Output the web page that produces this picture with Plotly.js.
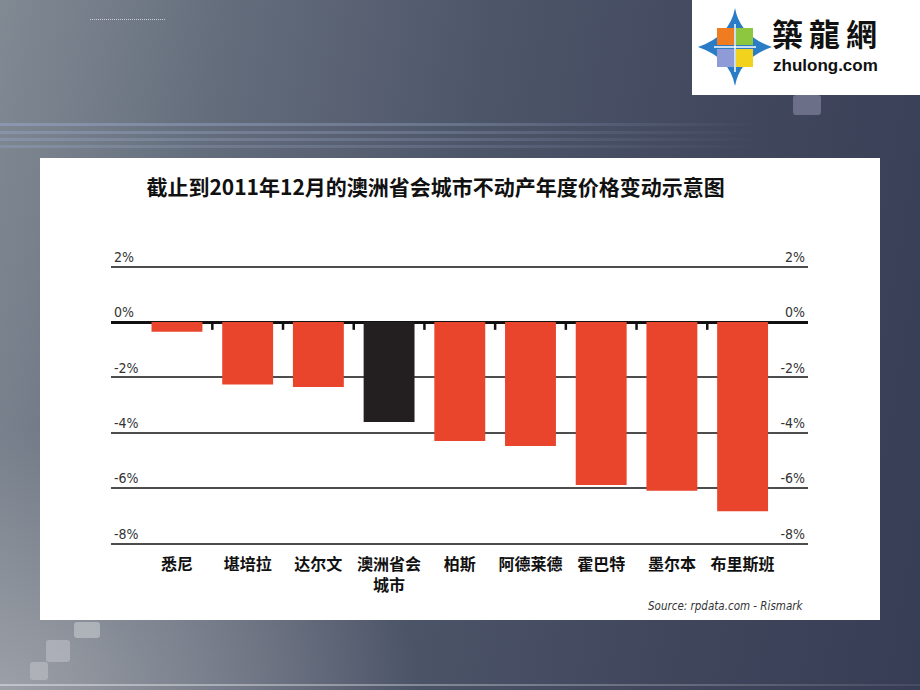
<!DOCTYPE html>
<html>
<head>
<meta charset="utf-8">
<script src="https://cdn.plot.ly/plotly-3.0.1.min.js"></script>
<style>
  html, body { margin:0; padding:0; }
  body {
    width:920px; height:690px; position:relative; overflow:hidden;
    background:
      radial-gradient(ellipse 420px 260px at 0px 690px, rgba(170,172,178,0.75), rgba(170,172,178,0) 100%),
      linear-gradient(100deg, #818a93 0%, #646d7c 22%, #4d5569 48%, #40475d 75%, #373d54 100%);
    font-family: "Noto Sans", sans-serif;
  }
  .stripe { position:absolute; left:0; height:3px; width:760px;
    background:linear-gradient(to right, rgba(150,165,200,0.55), rgba(150,165,200,0.35) 60%, rgba(150,165,200,0)); }
  .sq { position:absolute; border-radius:3px; }
  #chart { position:absolute; left:40px; top:158px; width:840px; height:462px; }
  #logo { position:absolute; left:692px; top:0; width:228px; height:95px; background:#fff; }
  #logo .cn { position:absolute; left:80px; top:14px; font-family:"Noto Sans CJK TC",serif; font-weight:700; font-size:31px; letter-spacing:6px; color:#111; line-height:38px; }
  #logo .en { position:absolute; left:81px; top:56px; font-family:"Liberation Sans",Arial,sans-serif; font-weight:700; font-size:17px; line-height:20px; color:#111; }
</style>
</head>
<body>
<div style="position:absolute;left:90px;top:19px;width:75px;border-top:1px dotted rgba(230,230,230,0.8);"></div>
<div class="stripe" style="top:123px;"></div>
<div class="stripe" style="top:131px;opacity:0.8"></div>
<div class="stripe" style="top:138px;opacity:0.7"></div>
<div class="stripe" style="top:145px;opacity:0.6"></div>
<div class="sq" style="left:793px;top:95px;width:28px;height:20px;background:#6b6f88;"></div>
<div class="sq" style="left:74px;top:622px;width:26px;height:16px;background:rgba(190,192,198,0.7);"></div>
<div class="sq" style="left:46px;top:640px;width:24px;height:22px;background:rgba(190,192,198,0.6);"></div>
<div class="sq" style="left:30px;top:662px;width:18px;height:18px;background:rgba(200,200,205,0.5);"></div>
<div style="position:absolute;left:0;top:684px;width:920px;height:2px;background:linear-gradient(to right, rgba(210,210,215,0.7), rgba(210,210,215,0.1));"></div>

<div id="logo">
  <svg width="80" height="95" style="position:absolute;left:2px;top:0;">
    <path d="M41,8 Q46,36 78,47 Q46,58 41,86 Q36,58 4,47 Q36,36 41,8 Z" fill="#2b7cc6"/>
    <rect x="23" y="28" width="17" height="17" fill="#f07c22"/>
    <rect x="42" y="28" width="17" height="17" fill="#8dc63f"/>
    <rect x="23" y="49" width="17" height="18" fill="#8f9bd6"/>
    <rect x="42" y="49" width="17" height="18" fill="#f3d21e"/>
    <line x1="41" y1="24" x2="41" y2="72" stroke="#fff" stroke-width="1.5"/>
    <line x1="20" y1="47" x2="62" y2="47" stroke="#fff" stroke-width="1.5"/>
  </svg>
  <div class="cn">築龍網</div>
  <div class="en">zhulong.com</div>
</div>

<div id="chart"></div>

<script>
// ---- data ----
const categories = ['悉尼', '堪培拉', '达尔文', '澳洲省会<br>城市', '柏斯', '阿德莱德', '霍巴特', '墨尔本', '布里斯班'];
const values = [-0.35, -2.25, -2.34, -3.61, -4.29, -4.47, -5.88, -6.09, -6.83];
const yTickVals = [2, 0, -2, -4, -6, -8];
const yTickText = ['2%', '0%', '-2%', '-4%', '-6%', '-8%'];
const chartTitle = '截止到2011年12月的澳洲省会城市不动产年度价格变动示意图';
const sourceText = 'Source: rpdata.com - Rismark';

// ---- styles ----
const RED = '#e9452c';
const BLACK = '#231f20';
const barColors = categories.map(c => c.indexOf('澳洲省会') === 0 ? BLACK : RED);
const numFont = '"Liberation Sans Narrow", "DejaVu Sans Condensed", "Liberation Sans", sans-serif';
const cjkFont = '"Noto Sans CJK SC", sans-serif';
const Y_RANGE = [-8.12, 3.0];

const barTrace = {
  type: 'bar',
  x: categories,
  y: values,
  marker: { color: barColors, line: { width: 0 } },
  hoverinfo: 'x+y'
};

// invisible companion trace so the right-hand mirror axis is drawn
const mirrorTrace = {
  type: 'scatter', mode: 'markers',
  x: categories, y: values, yaxis: 'y2',
  marker: { opacity: 0, size: 1 },
  hoverinfo: 'skip', showlegend: false
};

// small separator ticks hanging under the zero line, between categories
const sepShapes = categories.slice(1).map((c, i) => ({
  type: 'line', xref: 'x', yref: 'y',
  x0: i + 0.5, x1: i + 0.5, y0: 0, y1: -0.28,
  line: { color: '#111', width: 2.5 }
}));

const axisTickFont = { family: numFont, size: 14, color: '#333333' };

const layout = {
  width: 840, height: 462,
  margin: { l: 71, r: 72, t: 81, b: 73 },
  paper_bgcolor: '#ffffff',
  plot_bgcolor: 'rgba(0,0,0,0)',
  showlegend: false,
  bargap: 0.28,
  title: {
    text: chartTitle,
    font: { family: cjkFont, size: 21, weight: 700, color: '#111' },
    xref: 'container', x: 0.471, xanchor: 'center',
    yref: 'container', y: 0.935, yanchor: 'middle'
  },
  xaxis: {
    type: 'category',
    range: [-0.933, 8.925],
    showgrid: false, zeroline: false, showline: false,
    ticks: '',
    ticklabelstandoff: 6,
    tickfont: { family: cjkFont, size: 16, weight: 700, color: '#111' },
    fixedrange: true
  },
  yaxis: {
    range: Y_RANGE,
    tickmode: 'array', tickvals: yTickVals, ticktext: yTickText,
    ticklabelposition: 'inside top',
    ticklabelstandoff: 0,
    tickfont: axisTickFont,
    ticks: '',
    showgrid: true, gridcolor: '#4d4d4d', gridwidth: 1.5,
    zeroline: true, zerolinecolor: '#111', zerolinewidth: 2.6,
    showline: false,
    fixedrange: true
  },
  yaxis2: {
    overlaying: 'y', side: 'right', anchor: 'x',
    range: Y_RANGE,
    tickmode: 'array', tickvals: yTickVals, ticktext: yTickText,
    ticklabelposition: 'inside top',
    ticklabelstandoff: 0,
    tickfont: axisTickFont,
    ticks: '',
    showgrid: false, zeroline: false, showline: false,
    fixedrange: true
  },
  shapes: sepShapes,
  annotations: [{
    text: '<i>' + sourceText + '</i>',
    xref: 'paper', yref: 'paper',
    x: 0.9957, y: -0.19, xanchor: 'right', yanchor: 'middle',
    showarrow: false,
    font: { family: numFont, size: 11.5, color: '#333' }
  }]
};

Plotly.newPlot('chart', [barTrace, mirrorTrace], layout, { displayModeBar: false });
</script>
</body>
</html>
